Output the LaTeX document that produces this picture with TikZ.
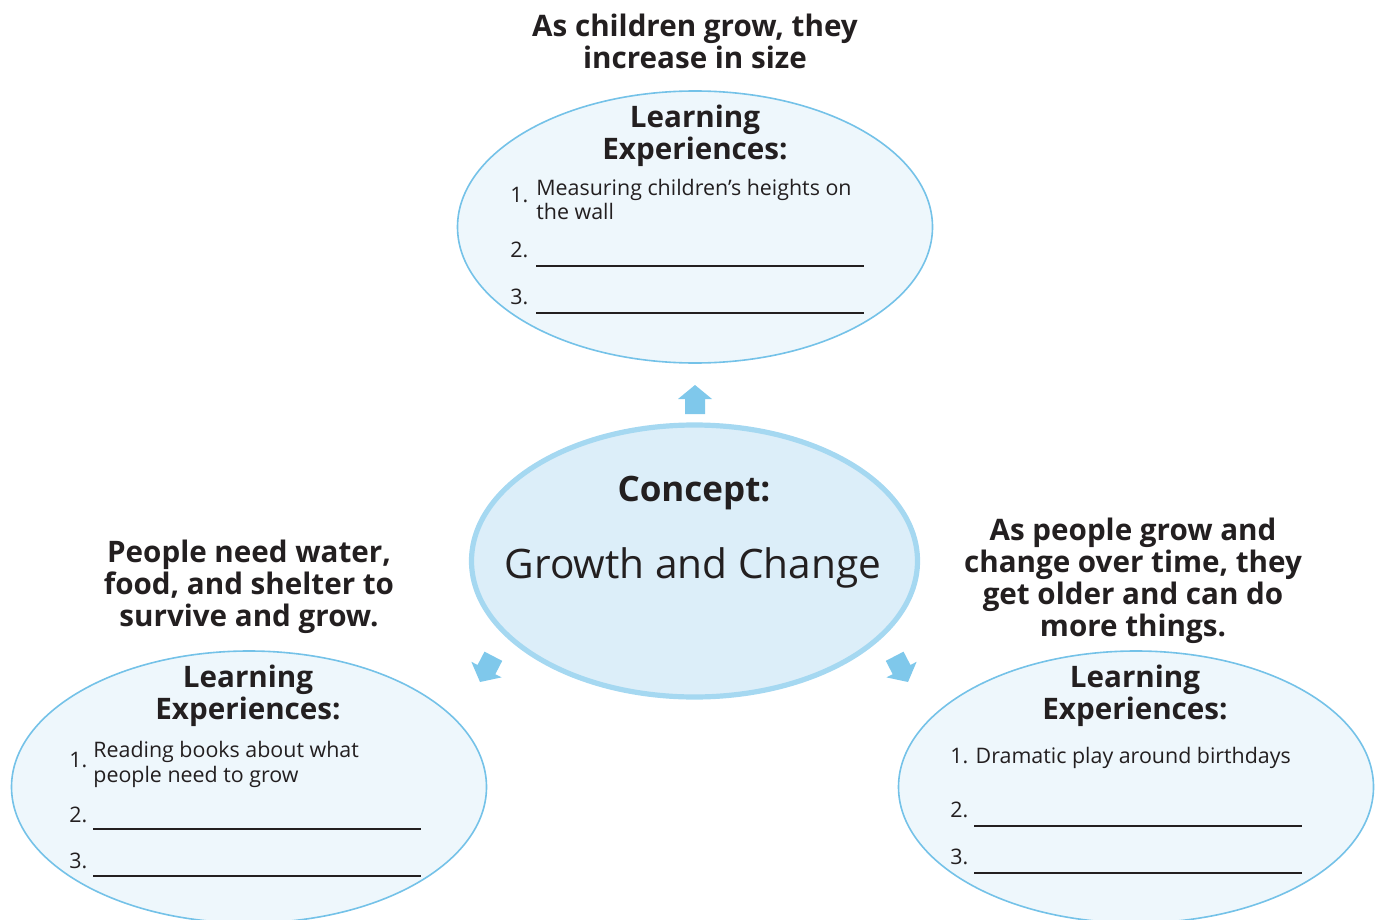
\documentclass[tikz,border=0pt]{standalone}
\usepackage{fontspec}
\setmainfont{Open Sans}
\usetikzlibrary{shapes.geometric}

\definecolor{ringblue}{HTML}{74C2E8}
\definecolor{paleblue}{HTML}{EEF7FC}
\definecolor{coreblue}{HTML}{DCEEF9}
\definecolor{coreline}{HTML}{A5D8F1}
\definecolor{arrowblue}{HTML}{7FC8EB}
\definecolor{inkblack}{HTML}{231F20}

\tikzset{
	idea/.style={ellipse, draw=ringblue, line width=0.8pt, fill=paleblue,
		minimum width=237.5pt, minimum height=136pt, inner sep=0pt},
	core/.style={ellipse, draw=coreline, line width=2.6pt, fill=coreblue,
		minimum width=223pt, minimum height=136pt, inner sep=0pt},
	head/.style={font=\fontsize{14.8}{16}\selectfont\bfseries, align=center,
		text=inkblack, inner sep=0pt},
	item/.style={font=\fontsize{10.7}{12.5}\selectfont, anchor=base west,
		text=inkblack, inner sep=0pt, align=left},
	blank/.style={line width=0.9pt, draw=inkblack},
	bluearrow/.pic={
		\fill[arrowblue] (0,0) -- (17,14) -- (10,14) -- (10,29)
			-- (-10,29) -- (-10,14) -- (-17,14) -- cycle;}
}

\begin{document}
\begin{tikzpicture}[x=0.5pt, y=-0.5pt]
	\useasboundingbox (0,0) rectangle (1376,920);
%	\draw [help lines, step=50] (0,0) grid (1376,920);

	% ellipses
	\node [idea] (topidea) at (695,227) {};
	\node [idea] (leftidea) at (249,787) {};
	\node [idea] (rightidea) at (1136,787) {};
	\node [core] (concept) at (694.5,561) {};

	% arrows
	\pic at (695,385) {bluearrow};
	\pic [rotate=152.6] at (480,682) {bluearrow};
	\pic [rotate=-152.6] at (908,682) {bluearrow};

	% centre
	\node [text=inkblack, anchor=base, inner sep=0pt,
		font=\fontsize{17.5}{20}\selectfont\bfseries] (conceptlabel) at (694,501) {Concept:};
	\node [text=inkblack, anchor=base, inner sep=0pt,
		font=\fontsize{20.3}{24}\selectfont] (conceptname) at (693,578) {Growth and Change};

	% headings
	\node [head] (tophead) at (695,41) {As children grow, they\\increase in size};
	\node [head] (lefthead) at (249,587) {People need water,\\food, and shelter to\\survive and grow.};
	\node [head] (righthead) at (1133,581) {As people grow and\\change over time, they\\get older and can do\\more things.};

	\node [head] (toplearn) at (695,136) {Learning\\Experiences:};
	\node [head] (leftlearn) at (248,696) {Learning\\Experiences:};
	\node [head] (rightlearn) at (1135,696) {Learning\\Experiences:};

	% top list
	\node [item] (topone) at (510,202) {1.};
	\node [item] (toponetext) at (536,220) {Measuring children’s heights on\\the wall};
	\node [item] (toptwo) at (510,257) {2.};
	\node [item] (topthree) at (510,304) {3.};
	\draw [blank] (536,266) -- (864,266);
	\draw [blank] (536,313) -- (864,313);

	% left list
	\node [item] (leftone) at (69,767) {1.};
	\node [item] (leftonetext) at (93,782) {Reading books about what\\people need to grow};
	\node [item] (lefttwo) at (69,822) {2.};
	\node [item] (leftthree) at (69,868) {3.};
	\draw [blank] (93,829) -- (421,829);
	\draw [blank] (93,876) -- (421,876);

	% right list
	\node [item] (rightone) at (950,763) {1. Dramatic play around birthdays};
	\node [item] (righttwo) at (950,817) {2.};
	\node [item] (rightthree) at (950,864) {3.};
	\draw [blank] (974,826) -- (1302,826);
	\draw [blank] (974,873) -- (1302,873);
\end{tikzpicture}
\end{document}
